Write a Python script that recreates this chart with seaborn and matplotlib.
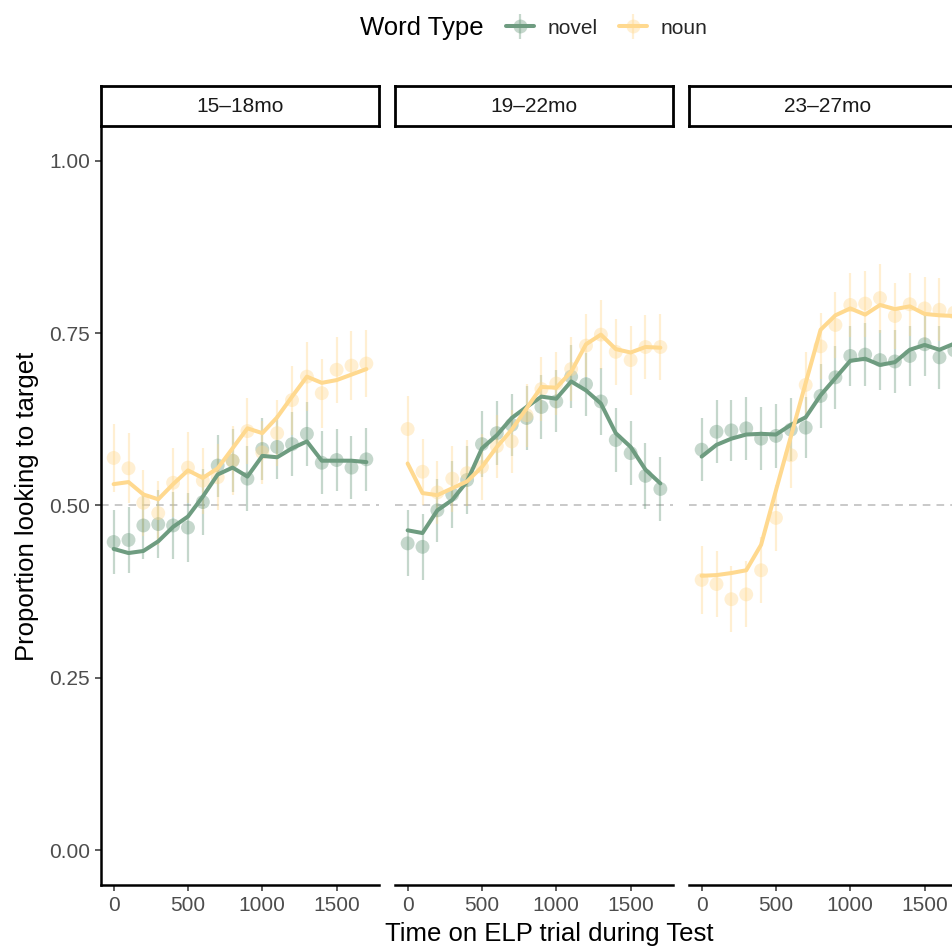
import numpy as np
import pandas as pd
import matplotlib
matplotlib.use("Agg")
import matplotlib.pyplot as plt
from matplotlib.lines import Line2D
from matplotlib.legend_handler import HandlerTuple
import seaborn as sns

# ---------------- data ----------------
time_ms = [0, 100, 200, 300, 400, 500, 600, 700, 800, 900,
           1000, 1100, 1200, 1300, 1400, 1500, 1600, 1700]
age_groups = ["15\u201318mo", "19\u201322mo", "23\u201327mo"]
word_types = ["novel", "noun"]

# points (bin means)
novel_pts_15 = [0.447, 0.450, 0.471, 0.473, 0.471, 0.468, 0.505, 0.558, 0.565, 0.539,
                0.582, 0.585, 0.589, 0.604, 0.562, 0.566, 0.555, 0.567]
noun_pts_15 = [0.569, 0.554, 0.504, 0.489, 0.533, 0.555, 0.536, 0.541, 0.565, 0.608,
               0.577, 0.605, 0.653, 0.687, 0.663, 0.697, 0.703, 0.706]
novel_pts_19 = [0.445, 0.440, 0.493, 0.516, 0.537, 0.589, 0.605, 0.617, 0.627, 0.643,
                0.651, 0.687, 0.676, 0.651, 0.595, 0.576, 0.543, 0.524]
noun_pts_19 = [0.611, 0.549, 0.519, 0.539, 0.547, 0.556, 0.586, 0.593, 0.631, 0.669,
               0.677, 0.698, 0.732, 0.748, 0.723, 0.711, 0.730, 0.730]
novel_pts_23 = [0.581, 0.607, 0.609, 0.612, 0.597, 0.601, 0.610, 0.613, 0.659, 0.686,
                0.717, 0.719, 0.711, 0.709, 0.717, 0.734, 0.715, 0.725]
noun_pts_23 = [0.392, 0.386, 0.364, 0.371, 0.406, 0.482, 0.573, 0.675, 0.731, 0.762,
               0.791, 0.793, 0.801, 0.775, 0.792, 0.786, 0.784, 0.780]

# lines (model / smoothed estimates)
novel_line_15 = [0.437, 0.431, 0.434, 0.448, 0.469, 0.484, 0.513, 0.545, 0.555, 0.542,
                 0.572, 0.570, 0.583, 0.593, 0.565, 0.565, 0.565, 0.563]
noun_line_15 = [0.531, 0.534, 0.516, 0.509, 0.531, 0.551, 0.540, 0.554, 0.583, 0.612,
                0.605, 0.628, 0.658, 0.687, 0.678, 0.682, 0.690, 0.698]
novel_line_19 = [0.464, 0.460, 0.493, 0.508, 0.535, 0.583, 0.602, 0.627, 0.643, 0.658,
                 0.655, 0.680, 0.667, 0.648, 0.605, 0.585, 0.552, 0.532]
noun_line_19 = [0.561, 0.518, 0.515, 0.525, 0.535, 0.556, 0.585, 0.610, 0.641, 0.672,
                0.671, 0.694, 0.734, 0.748, 0.727, 0.722, 0.730, 0.729]
novel_line_23 = [0.571, 0.588, 0.597, 0.603, 0.604, 0.603, 0.617, 0.628, 0.660, 0.685,
                 0.710, 0.713, 0.704, 0.708, 0.726, 0.733, 0.726, 0.735]
noun_line_23 = [0.398, 0.399, 0.402, 0.406, 0.443, 0.522, 0.600, 0.678, 0.755, 0.776,
                0.786, 0.777, 0.791, 0.785, 0.789, 0.778, 0.776, 0.775]

# standard errors (half-length of error bars)
novel_se_15 = [0.046, 0.048, 0.048, 0.049, 0.049, 0.050, 0.048, 0.045, 0.046, 0.047,
               0.045, 0.046, 0.046, 0.046, 0.046, 0.045, 0.046, 0.046]
noun_se_15 = [0.049, 0.051, 0.048, 0.047, 0.050, 0.052, 0.048, 0.048, 0.050, 0.048,
              0.046, 0.048, 0.050, 0.050, 0.050, 0.048, 0.050, 0.048]
novel_se_19 = [0.048, 0.048, 0.046, 0.048, 0.050, 0.048, 0.046, 0.045, 0.046, 0.046,
               0.045, 0.046, 0.046, 0.048, 0.046, 0.046, 0.048, 0.046]
noun_se_19 = [0.048, 0.048, 0.046, 0.048, 0.048, 0.048, 0.046, 0.046, 0.046, 0.046,
              0.046, 0.046, 0.046, 0.050, 0.048, 0.050, 0.046, 0.048]
novel_se_23 = [0.046, 0.046, 0.044, 0.046, 0.046, 0.046, 0.046, 0.044, 0.046, 0.046,
               0.044, 0.046, 0.044, 0.046, 0.044, 0.046, 0.046, 0.046]
noun_se_23 = [0.049, 0.048, 0.048, 0.048, 0.048, 0.048, 0.048, 0.048, 0.048, 0.048,
              0.046, 0.048, 0.050, 0.048, 0.046, 0.046, 0.046, 0.046]

y_ticks = [0.00, 0.25, 0.50, 0.75, 1.00]
x_ticks = [0, 500, 1000, 1500]

pts = {"15\u201318mo": (novel_pts_15, noun_pts_15),
       "19\u201322mo": (novel_pts_19, noun_pts_19),
       "23\u201327mo": (novel_pts_23, noun_pts_23)}
lines = {"15\u201318mo": (novel_line_15, noun_line_15),
         "19\u201322mo": (novel_line_19, noun_line_19),
         "23\u201327mo": (novel_line_23, noun_line_23)}
ses = {"15\u201318mo": (novel_se_15, noun_se_15),
       "19\u201322mo": (novel_se_19, noun_se_19),
       "23\u201327mo": (novel_se_23, noun_se_23)}

rows = []
for g in age_groups:
    for k, wt in enumerate(word_types):
        for t, p, l, s in zip(time_ms, pts[g][k], lines[g][k], ses[g][k]):
            rows.append(dict(age=g, type=wt, time=t, prop=p, fit=l, se=s))
df = pd.DataFrame(rows)

# ---------------- style ----------------
sns.set_theme(style="ticks")
plt.rcParams["font.family"] = ["Liberation Sans", "DejaVu Sans"]

palette = {"novel": "#6E9C80", "noun": "#FFD98F"}
TICK_FS = 15
TITLE_FS = 18.5
GREY30 = "#4D4D4D"
LINE_W = 2.9

W, H = 953, 947
fig = plt.figure(figsize=(W / 100, H / 100), dpi=100)

panel_left = [101, 395, 689]
panel_w = 278
panel_top, panel_bot = 126.5, 884.5
strip_top = 86

def fx(px):
    return px / W

def fy(py):
    return 1 - py / H

for i, g in enumerate(age_groups):
    ax = fig.add_axes([fx(panel_left[i]), fy(panel_bot), panel_w / W, (panel_bot - panel_top) / H])
    sub = df[df.age == g]
    ax.axhline(0.5, color="#BBBBBB", lw=1.1, dashes=(5, 4), zorder=1)
    for wt in word_types:
        s = sub[sub.type == wt]
        ax.errorbar(s.time, s.prop, yerr=s.se, fmt="none", ecolor=palette[wt],
                    elinewidth=1.6, alpha=0.4, zorder=2)
    sns.scatterplot(data=sub, x="time", y="prop", hue="type", palette=palette,
                    hue_order=word_types, s=100, alpha=0.4, edgecolor="none",
                    legend=False, ax=ax, zorder=3)
    sns.lineplot(data=sub, x="time", y="fit", hue="type", palette=palette,
                 hue_order=word_types, linewidth=LINE_W, legend=False, ax=ax,
                 zorder=4, estimator=None)
    ax.set_xlim(-85, 1785)
    ax.set_ylim(-0.05, 1.05)
    ax.set_xlabel("")
    ax.set_ylabel("")
    ax.set_xticks(x_ticks)
    ax.set_xticklabels([str(v) for v in x_ticks])
    ax.spines["top"].set_visible(False)
    ax.spines["right"].set_visible(False)
    for side in ("bottom", "left"):
        ax.spines[side].set_linewidth(1.8)
        ax.spines[side].set_color("black")
    ax.tick_params(axis="x", length=4, width=1.1, color="#333333", labelsize=TICK_FS,
                   labelcolor=GREY30, pad=4)
    if i == 0:
        ax.set_yticks(y_ticks)
        ax.set_yticklabels([f"{v:.2f}" for v in y_ticks])
        ax.tick_params(axis="y", length=4, width=1.1, color="#333333", labelsize=TICK_FS,
                       labelcolor=GREY30, pad=4)
    else:
        ax.spines["left"].set_visible(False)
        ax.set_yticks([])
    ax.set_facecolor("white")

    # strip
    sax = fig.add_axes([fx(panel_left[i]), fy(panel_top), panel_w / W, (panel_top - strip_top) / H])
    sax.set_xticks([])
    sax.set_yticks([])
    for sp in sax.spines.values():
        sp.set_visible(True)
        sp.set_linewidth(2.0)
        sp.set_color("black")
    sax.text(0.5, 0.5, g, ha="center", va="center", fontsize=TICK_FS, color="#1A1A1A",
             transform=sax.transAxes)

# axis titles
fig.text(fx(549), fy(934), "Time on ELP trial during Test", ha="center", va="center",
         fontsize=TITLE_FS, color="black")
fig.text(fx(27), fy(506), "Proportion looking to target", ha="center", va="center",
         rotation=90, fontsize=TITLE_FS, color="black")

# legend
fig.text(fx(360), fy(28), "Word Type", ha="left", va="center", fontsize=TITLE_FS, color="black")
handles = []
for wt in word_types:
    c = palette[wt]
    h = (Line2D([], [], color=c, marker="|", ms=18, mew=1.6, alpha=0.4, ls="none"),
         Line2D([], [], color=c, marker="o", ms=10, alpha=0.4, mec="none", ls="none"),
         Line2D([], [], color=c, lw=LINE_W))
    handles.append(h)
fig.legend(handles, word_types, loc="center left", bbox_to_anchor=(fx(506), fy(28)),
           ncol=2, frameon=False, fontsize=TICK_FS, handlelength=1.35, handletextpad=0.65,
           columnspacing=1.0, borderpad=0, borderaxespad=0,
           handler_map={tuple: HandlerTuple(ndivide=1, pad=0)})

fig.savefig("out.png", dpi=100)
